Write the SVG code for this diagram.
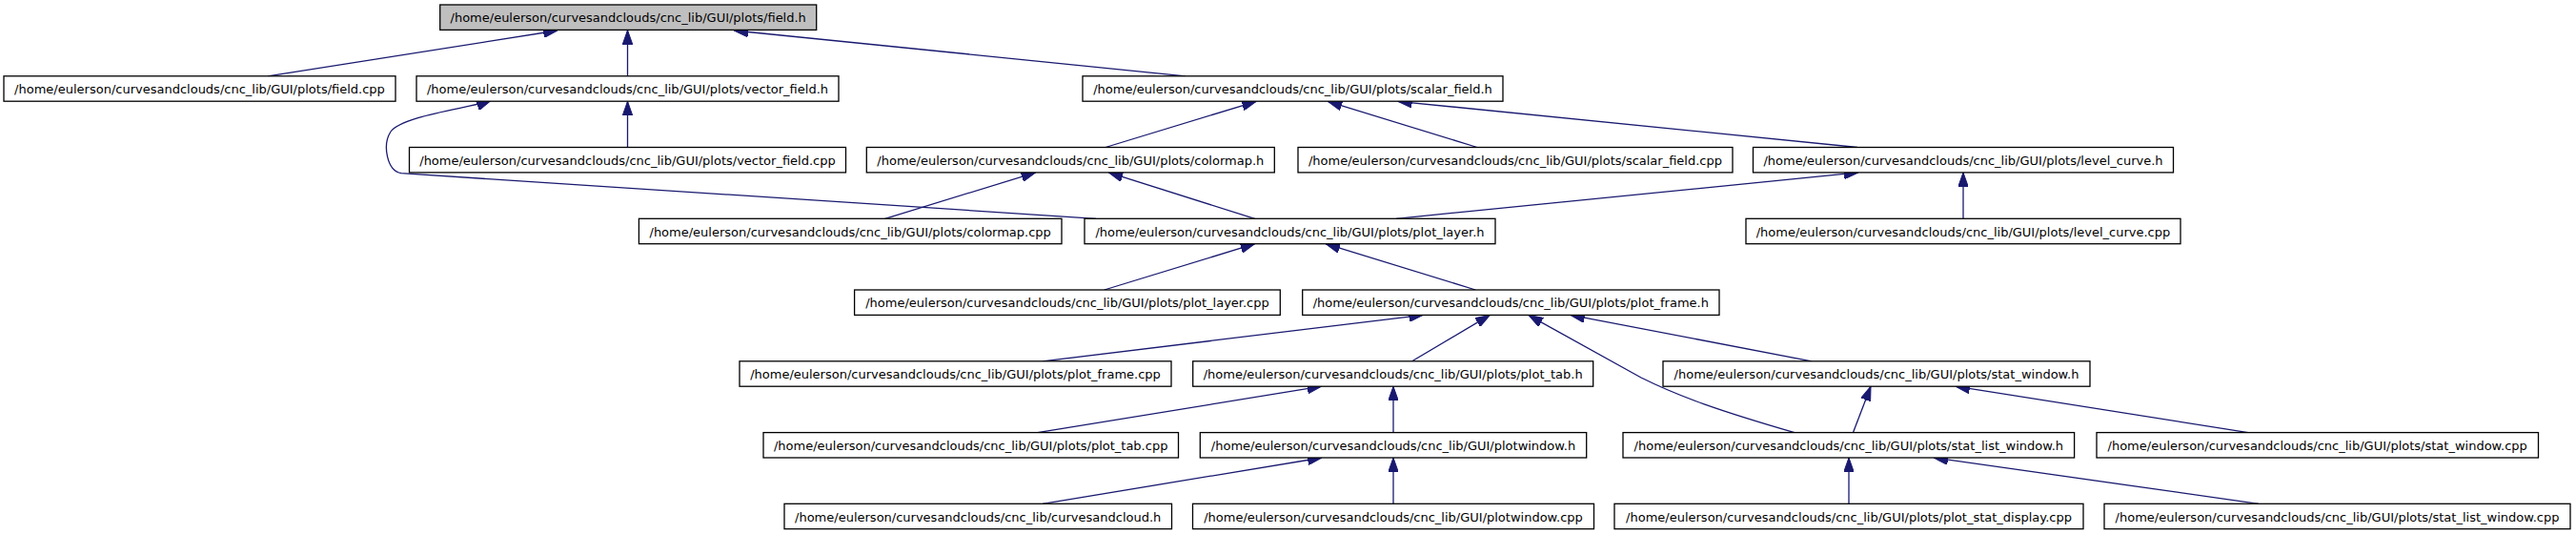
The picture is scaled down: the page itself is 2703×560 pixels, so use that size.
<svg xmlns="http://www.w3.org/2000/svg" width="2703" height="560" viewBox="0 0 2703 560">
<style>
.n rect{fill:#fff;stroke:#000;stroke-width:1.3}
.n.root rect{fill:#bfbfbf}
.n text{font-family:"DejaVu Sans","Liberation Sans",sans-serif;font-size:13px;text-anchor:middle;fill:#000}
.e path{fill:none;stroke:#191970;stroke-width:1.3;marker-end:url(#ah)}
</style>
<defs>
<marker id="ah" markerUnits="userSpaceOnUse" viewBox="0 0 15 10.6" markerWidth="15" markerHeight="10.6" refX="15" refY="5.3" orient="auto">
<path d="M0,0 L15,5.3 L0,10.6 z" fill="#191970" stroke="#191970" stroke-width="1"/>
</marker>
</defs>
<rect width="2703" height="560" fill="#fff"/>
<g id="edges" class="e">
<path d="M281,79.8 L585,32"/>
<path d="M658.5,79.8 L658.5,31.7"/>
<path d="M1244,79.8 L770,32"/>
<path d="M658.5,154.5 L658.5,106.3"/>
<path d="M1150,229.3 L421,181.7 C406,179 401,152 410,138 C422,121 495,113 515,105.5"/>
<path d="M1160,154.5 L1318.3,106.3"/>
<path d="M1550,154.5 L1393.3,106.3"/>
<path d="M1949,154.5 L1466.7,106.3"/>
<path d="M928.7,229.3 L1086.7,180.9"/>
<path d="M1316.7,229.3 L1163.3,180.9"/>
<path d="M1465,229.3 L1950,180.9"/>
<path d="M2060,229.3 L2060,180.9"/>
<path d="M1158.7,304 L1316.7,255.7"/>
<path d="M1548.3,304 L1391,255.7"/>
<path d="M1094,378.8 L1493.3,330.4"/>
<path d="M1481.7,378.8 L1563.3,330.4"/>
<path d="M1883,453.6 C1805,431 1762,416 1722,396 C1682,374 1642,352 1604,330.6"/>
<path d="M1901,378.8 L1648,330.4"/>
<path d="M1088.7,453.6 L1386.7,405.2"/>
<path d="M1462,453.6 L1462,405.2"/>
<path d="M1094,528.3 L1387,480"/>
<path d="M1462,528.3 L1462,480"/>
<path d="M1944.5,453.6 L1963,405.2"/>
<path d="M2359,453.6 L2052,405.2"/>
<path d="M1940,528.3 L1940,480"/>
<path d="M2370,528.3 L2029,480"/>
</g>
<g id="n_field_h" class="n root"><rect x="461.7" y="5" width="395" height="26.4"/><text x="659.2" y="23.2">/home/eulerson/curvesandclouds/cnc_lib/GUI/plots/field.h</text></g>
<g id="n_field_cpp" class="n"><rect x="4" y="79.8" width="411" height="26.4"/><text x="209.5" y="98">/home/eulerson/curvesandclouds/cnc_lib/GUI/plots/field.cpp</text></g>
<g id="n_vector_field_h" class="n"><rect x="437" y="79.8" width="443" height="26.4"/><text x="658.5" y="98">/home/eulerson/curvesandclouds/cnc_lib/GUI/plots/vector_field.h</text></g>
<g id="n_scalar_field_h" class="n"><rect x="1136" y="79.8" width="441" height="26.4"/><text x="1356.5" y="98">/home/eulerson/curvesandclouds/cnc_lib/GUI/plots/scalar_field.h</text></g>
<g id="n_vector_field_cpp" class="n"><rect x="429.5" y="154.5" width="458" height="26.4"/><text x="658.5" y="172.7">/home/eulerson/curvesandclouds/cnc_lib/GUI/plots/vector_field.cpp</text></g>
<g id="n_colormap_h" class="n"><rect x="909.3" y="154.5" width="428" height="26.4"/><text x="1123.3" y="172.7">/home/eulerson/curvesandclouds/cnc_lib/GUI/plots/colormap.h</text></g>
<g id="n_scalar_field_cpp" class="n"><rect x="1362" y="154.5" width="456" height="26.4"/><text x="1590" y="172.7">/home/eulerson/curvesandclouds/cnc_lib/GUI/plots/scalar_field.cpp</text></g>
<g id="n_level_curve_h" class="n"><rect x="1839.5" y="154.5" width="441" height="26.4"/><text x="2060" y="172.7">/home/eulerson/curvesandclouds/cnc_lib/GUI/plots/level_curve.h</text></g>
<g id="n_colormap_cpp" class="n"><rect x="670.4" y="229.3" width="443.6" height="26.4"/><text x="892.2" y="247.5">/home/eulerson/curvesandclouds/cnc_lib/GUI/plots/colormap.cpp</text></g>
<g id="n_plot_layer_h" class="n"><rect x="1138" y="229.3" width="431" height="26.4"/><text x="1353.5" y="247.5">/home/eulerson/curvesandclouds/cnc_lib/GUI/plots/plot_layer.h</text></g>
<g id="n_level_curve_cpp" class="n"><rect x="1832" y="229.3" width="456" height="26.4"/><text x="2060" y="247.5">/home/eulerson/curvesandclouds/cnc_lib/GUI/plots/level_curve.cpp</text></g>
<g id="n_plot_layer_cpp" class="n"><rect x="896.6" y="304" width="446.7" height="26.4"/><text x="1120" y="322.2">/home/eulerson/curvesandclouds/cnc_lib/GUI/plots/plot_layer.cpp</text></g>
<g id="n_plot_frame_h" class="n"><rect x="1366.7" y="304" width="437.3" height="26.4"/><text x="1585.3" y="322.2">/home/eulerson/curvesandclouds/cnc_lib/GUI/plots/plot_frame.h</text></g>
<g id="n_plot_frame_cpp" class="n"><rect x="776" y="378.8" width="453" height="26.4"/><text x="1002.5" y="397">/home/eulerson/curvesandclouds/cnc_lib/GUI/plots/plot_frame.cpp</text></g>
<g id="n_plot_tab_h" class="n"><rect x="1251.7" y="378.8" width="420" height="26.4"/><text x="1461.7" y="397">/home/eulerson/curvesandclouds/cnc_lib/GUI/plots/plot_tab.h</text></g>
<g id="n_stat_window_h" class="n"><rect x="1745" y="378.8" width="448" height="26.4"/><text x="1969" y="397">/home/eulerson/curvesandclouds/cnc_lib/GUI/plots/stat_window.h</text></g>
<g id="n_plot_tab_cpp" class="n"><rect x="801" y="453.6" width="435.5" height="26.4"/><text x="1018.7" y="471.8">/home/eulerson/curvesandclouds/cnc_lib/GUI/plots/plot_tab.cpp</text></g>
<g id="n_plotwindow_h" class="n"><rect x="1259.3" y="453.6" width="405.4" height="26.4"/><text x="1462" y="471.8">/home/eulerson/curvesandclouds/cnc_lib/GUI/plotwindow.h</text></g>
<g id="n_stat_list_window_h" class="n"><rect x="1703" y="453.6" width="473.6" height="26.4"/><text x="1939.8" y="471.8">/home/eulerson/curvesandclouds/cnc_lib/GUI/plots/stat_list_window.h</text></g>
<g id="n_stat_window_cpp" class="n"><rect x="2200" y="453.6" width="463.5" height="26.4"/><text x="2431.7" y="471.8">/home/eulerson/curvesandclouds/cnc_lib/GUI/plots/stat_window.cpp</text></g>
<g id="n_curvesandcloud_h" class="n"><rect x="823" y="528.3" width="406.5" height="26.4"/><text x="1026.2" y="546.5">/home/eulerson/curvesandclouds/cnc_lib/curvesandcloud.h</text></g>
<g id="n_plotwindow_cpp" class="n"><rect x="1251.5" y="528.3" width="421" height="26.4"/><text x="1462" y="546.5">/home/eulerson/curvesandclouds/cnc_lib/GUI/plotwindow.cpp</text></g>
<g id="n_plot_stat_display_cpp" class="n"><rect x="1694" y="528.3" width="492" height="26.4"/><text x="1940" y="546.5">/home/eulerson/curvesandclouds/cnc_lib/GUI/plots/plot_stat_display.cpp</text></g>
<g id="n_stat_list_window_cpp" class="n"><rect x="2208" y="528.3" width="489" height="26.4"/><text x="2452.5" y="546.5">/home/eulerson/curvesandclouds/cnc_lib/GUI/plots/stat_list_window.cpp</text></g>
</svg>
